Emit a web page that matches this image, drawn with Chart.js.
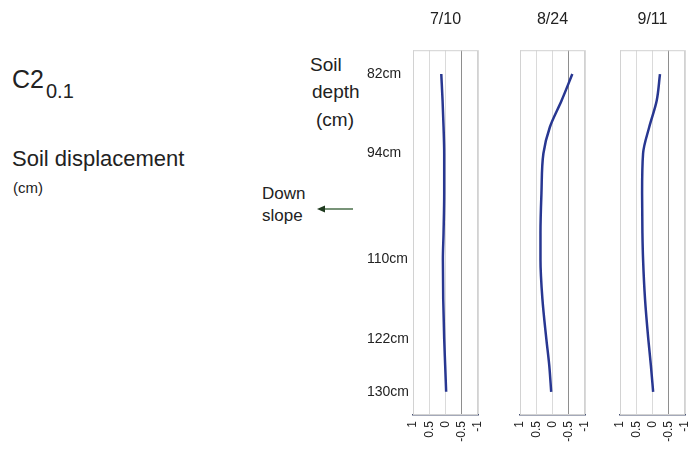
<!DOCTYPE html>
<html>
<head>
<meta charset="utf-8">
<title>C2 0.1 soil displacement</title>
<script src="https://cdn.jsdelivr.net/npm/chart.js@4/dist/chart.umd.min.js"></script>
<style>
  html, body { margin: 0; padding: 0; background: #fff; }
  #wrap { position: relative; width: 690px; height: 450px; overflow: hidden;
          font-family: "Liberation Sans", Arial, sans-serif; color: #222; }
  #wrap canvas { position: absolute; left: 0; top: 0; }
  .t { position: absolute; white-space: nowrap; line-height: 1; }
</style>
</head>
<body>
<div id="wrap">
  <div class="t" style="left:12px;top:67px;font-size:25px;">C2</div>
  <div class="t" style="left:46px;top:81px;font-size:20px;">0.1</div>
  <div class="t" style="left:12px;top:148px;font-size:22px;">Soil displacement</div>
  <div class="t" style="left:13px;top:180px;font-size:15px;">(cm)</div>

  <div class="t" style="left:310px;top:55px;font-size:19px;">Soil</div>
  <div class="t" style="left:312px;top:82px;font-size:19px;">depth</div>
  <div class="t" style="left:316px;top:110px;font-size:19px;">(cm)</div>

  <div class="t" style="left:262px;top:185px;font-size:17px;">Down</div>
  <div class="t" style="left:262px;top:207px;font-size:17px;">slope</div>
  <svg style="position:absolute;left:310px;top:200px;" width="50" height="20">
    <line x1="43" y1="9" x2="12" y2="9" stroke="#2f5a2f" stroke-width="1.3"/>
    <polygon points="7,9 15,5.5 15,12.5" fill="#1e3a1e"/>
  </svg>

  <canvas id="p1" width="690" height="450"></canvas>
  <canvas id="p2" width="690" height="450"></canvas>
  <canvas id="p3" width="710" height="450"></canvas>
</div>

<script>
// Inclinometer readings: depth (cm) and horizontal displacement (cm) per survey date
const depths   = [82, 86, 90, 94, 100, 106, 110, 116, 122, 126, 130];
const disp0710 = [0.13, 0.09, 0.06, 0.04, 0.04, 0.06, 0.08, 0.07, 0.04, 0.01, -0.02];
const disp0824 = [-0.61, -0.28, 0.08, 0.28, 0.34, 0.37, 0.37, 0.31, 0.19, 0.10, 0.04];
const disp0911 = [-0.23, -0.13, 0.10, 0.29, 0.32, 0.31, 0.29, 0.23, 0.13, 0.05, -0.02];

const surveyDates = ['7/10', '8/24', '9/11'];
const depthTicks  = [82, 94, 110, 122, 130];
const dispTicks   = [1, 0.5, 0, -0.5, -1];

Chart.defaults.font.family = '"Liberation Sans", Arial, sans-serif';
Chart.defaults.color = '#222';

// Light frame round each plotting area
const framePlugin = {
  id: 'frame',
  beforeDatasetsDraw(chart) {
    const { ctx, chartArea: a } = chart;
    ctx.save();
    ctx.strokeStyle = '#d2d2d2';
    ctx.lineWidth = 1;
    ctx.strokeRect(a.left + 0.5, a.top + 0.5, a.width - 1, a.height - 1);
    ctx.restore();
  }
};

function makePanel(canvasId, title, values, pad, showDepth) {
  const points = depths.map((d, i) => ({ x: values[i], y: d }));
  return new Chart(document.getElementById(canvasId), {
    type: 'line',
    data: {
      datasets: [{
        data: points,
        borderColor: '#283791',
        borderWidth: 2.5,
        pointRadius: 0,
        cubicInterpolationMode: 'monotone',
        fill: false
      }]
    },
    options: {
      indexAxis: 'y',
      responsive: false,
      animation: false,
      events: [],
      layout: { padding: pad },
      plugins: {
        legend: { display: false },
        tooltip: { enabled: false },
        title: {
          display: true,
          text: title,
          fullSize: false,
          color: '#222',
          font: { size: 16, weight: 'normal' },
          padding: { top: 0, bottom: 21 }
        }
      },
      scales: {
        x: {
          type: 'linear',
          min: -1,
          max: 1,
          reverse: true,
          afterBuildTicks: s => { s.ticks = dispTicks.map(v => ({ value: v })); },
          afterFit: s => { s.height = 35; },
          ticks: {
            autoSkip: false,
            minRotation: 90,
            maxRotation: 90,
            padding: 6,
            color: '#222',
            font: { size: 12 },
            callback: v => String(v)
          },
          grid: {
            drawTicks: false,
            lineWidth: 1,
            color: c => (c.tick && c.tick.value === -0.5) ? '#8e8e8e' : '#dadada'
          },
          border: { color: '#4a5474', width: 1.5 }
        },
        y: {
          type: 'linear',
          display: showDepth,
          min: 78.4,
          max: 133.5,
          reverse: true,
          afterBuildTicks: s => { s.ticks = depthTicks.map(v => ({ value: v })); },
          afterFit: s => { s.width = showDepth ? 46 : 0; },
          ticks: {
            crossAlign: 'far',
            padding: 0,
            color: '#222',
            font: { size: 14 },
            callback: v => v + 'cm'
          },
          grid: { display: false },
          border: { display: false }
        }
      }
    },
    plugins: [framePlugin]
  });
}

makePanel('p1', surveyDates[0], disp0710, { left: 367, right: 212, top: 10, bottom: 0 }, true);
makePanel('p2', surveyDates[1], disp0824, { left: 520, right: 105, top: 10, bottom: 0 }, false);
makePanel('p3', surveyDates[2], disp0911, { left: 620, right: 25, top: 10, bottom: 0 }, false);
</script>
</body>
</html>
